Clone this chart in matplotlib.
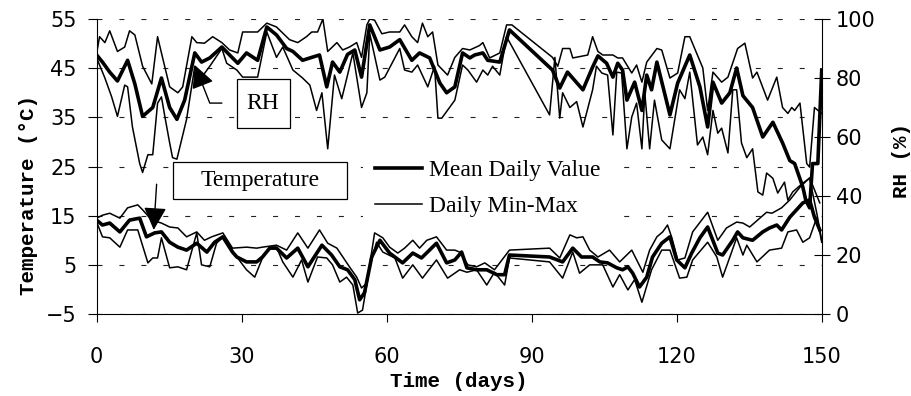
import matplotlib
matplotlib.use('Agg')
import matplotlib.pyplot as plt
from matplotlib.lines import Line2D
from matplotlib.patches import Rectangle

plt.rcParams['lines.scale_dashes'] = False

# --- RH (right axis) ---
rh_mean_day = [0.0, 1.2, 2.7, 4.3, 6.4, 7.9, 9.5, 11.6, 13.4, 15.1, 16.6, 18.2, 20.3, 21.7, 23.4, 25.9,
               27.5, 29.2, 31.0, 33.3, 35.2, 37.2, 39.3, 40.6, 42.6, 44.5, 46.1, 47.6, 48.8, 50.3, 51.9,
               53.4, 54.8, 56.5, 58.6, 60.6, 62.7, 65.2, 66.8, 68.9, 71.0, 72.4, 74.1, 75.7, 77.2, 78.2,
               79.9, 80.9, 83.4, 85.4, 94.3, 95.8, 97.4, 100.6, 102.6, 103.7, 105.5, 106.8, 107.8, 108.8,
               109.7, 111.3, 112.8, 113.8, 114.8, 115.9, 118.6, 120.2, 122.7, 124.8, 126.4, 127.5, 129.3,
               131.0, 132.4, 133.7, 135.7, 137.8, 139.9, 141.9, 143.4, 144.4, 146.1, 146.7, 147.5, 148.1,
               149.2, 150.0]
rh_mean = [87.8, 85.4, 82, 79, 86, 78, 67, 70, 80, 70, 66, 72.5, 88.5, 85.4, 86.8, 90.5,
           87.8, 85, 88.5, 86, 97.3, 94.6, 90, 89, 86, 87, 87.8, 77, 85.4, 82, 88,
           89.5, 80.3, 98, 89.5, 90.5, 93, 86, 88.5, 86.8, 78.3, 75, 77, 88.5, 86.8, 87.8,
           88.5, 86, 85.4, 96.3, 82.7, 76.6, 82, 76, 83.7, 87.5, 85, 80.3, 85, 82.7,
           72.5, 78.6, 69, 81, 76, 85.4, 67.5, 78.3, 87.8, 77, 63.4, 78.6, 71.5,
           75, 83.4, 74, 70, 60, 65, 58, 52, 51, 43, 38.6, 36, 51,
           51, 82.7]

rh_max_day = [0.0, 0.6, 1.7, 2.7, 4.3, 5.8, 6.8, 7.9, 9.5, 11.4, 12.6, 13.4, 15.1, 16.8, 17.8, 19.7,
              20.7, 22.3, 24.0, 25.9, 27.5, 29.2, 30.2, 33.3, 35.2, 37.2, 39.9, 41.6, 43.4, 44.5, 45.7,
              46.8, 47.8, 49.7, 50.9, 52.3, 53.8, 54.8, 55.9, 56.5, 57.5, 59.0, 60.6, 62.7, 63.7, 65.2,
              66.4, 67.4, 68.5, 69.5, 70.6, 72.6, 74.1, 75.7, 77.2, 79.2, 79.9, 81.3, 83.4, 84.8, 85.9,
              94.3, 95.4, 96.4, 97.9, 98.5, 101.6, 102.6, 103.7, 104.7, 106.8, 107.8, 108.8, 110.7,
              111.7, 112.8, 113.8, 115.9, 116.9, 118.6, 120.2, 121.7, 122.7, 125.4, 126.4, 127.5, 129.3,
              130.6, 132.6, 134.1, 135.7, 136.6, 138.8, 140.7, 141.9, 143.0, 143.8, 144.4, 145.5, 146.9,
              147.5, 148.5, 150.0]
rh_max = [88.5, 94, 92, 96, 89, 90.5, 96, 94.6, 84, 78, 94, 88.5, 77, 75, 77, 94,
          92, 91.8, 94, 92, 89.5, 88.5, 95.6, 95.6, 98.6, 97.3, 93, 92, 94, 95.6, 95.6,
          100, 89, 92, 89.5, 90.5, 92, 87, 98, 100, 99.6, 95, 95.6, 95.6, 98, 94,
          92, 98.6, 94, 95.6, 84.4, 81, 87, 90, 89.5, 91, 92, 86.8, 88.5, 98, 98,
          87, 84, 90, 90, 86.8, 87.8, 94, 89, 87.8, 87.8, 86.8, 86.8, 81.7,
          84.4, 78.6, 85.4, 90, 89.5, 80, 81.7, 94, 94, 83.4, 69, 82, 78.6,
          80.3, 90, 91.8, 80, 82, 72.5, 80.3, 70, 68, 70, 69, 71.5, 51,
          49.8, 70, 68]

rh_min_day = [0.0, 1.7, 3.1, 4.3, 5.8, 6.4, 7.4, 8.9, 9.5, 10.6, 11.6, 12.6, 13.4, 14.1, 15.1, 15.7,
              16.6, 18.6, 20.3, 21.3, 23.4, 25.9, 26.9, 29.0, 30.2, 33.3, 35.2, 37.2, 38.5, 40.6, 42.6,
              44.1, 45.5, 46.6, 47.8, 49.2, 50.7, 51.9, 53.0, 54.8, 55.9, 56.5, 58.6, 59.6, 62.7, 63.7,
              65.2, 66.4, 68.5, 69.9, 70.6, 71.4, 73.0, 74.1, 75.7, 76.8, 78.6, 79.9, 80.9, 81.9, 83.4,
              84.8, 93.7, 94.8, 95.8, 96.4, 97.9, 99.3, 100.6, 102.6, 103.4, 104.5, 105.7, 106.8, 107.6,
              108.6, 109.7, 110.7, 111.7, 112.8, 113.4, 114.4, 115.4, 116.9, 118.6, 120.6, 121.7, 122.7,
              124.3, 125.4, 126.4, 127.5, 128.5, 129.3, 130.6, 131.6, 132.4, 133.4, 134.5, 135.7, 136.8,
              137.8, 138.6, 139.9, 140.9, 142.3, 143.0, 144.0, 146.1, 147.5, 149.0, 150.0]
rh_min = [86.8, 80, 73.6, 67, 77.6, 77, 63.4, 51, 48, 54, 54, 71.5, 73.6, 67, 58, 53,
          52.5, 66, 84, 79.3, 84, 90, 85, 82.7, 80.3, 80.3, 95.6, 87, 90.5, 82.7, 80,
          77.6, 69, 75, 56, 81, 73, 81, 88.5, 70, 75, 95, 79.3, 80.3, 90, 82.7,
          82, 84.4, 77, 84, 66.4, 66.4, 70, 72.5, 84.4, 82.7, 78.6, 82.7, 81, 84, 81,
          94, 67.5, 87, 66.4, 75, 70, 72, 63.4, 76, 84, 81.7, 81, 60.7, 82,
          81.7, 56, 66.8, 71.5, 56, 75, 56, 72.5, 59, 56, 76, 73, 82,
          57.3, 60, 54, 69, 61.3, 63, 54.6, 76, 76, 58, 53, 56, 41.4,
          40.3, 47.8, 46, 41, 44.7, 38.6, 41.4, 44.4, 46, 34, 25]

# --- Temperature (left axis) ---
t_mean_day = [0.0, 1.2, 2.7, 4.8, 6.8, 8.9, 10.3, 12.0, 13.4, 15.1, 16.8, 18.6, 20.7, 22.8, 24.4, 26.1,
              28.1, 29.0, 31.0, 33.1, 34.3, 35.8, 37.2, 39.3, 41.6, 43.7, 46.6, 48.6, 50.3, 51.9, 53.4,
              54.4, 55.4, 56.9, 58.6, 60.6, 63.3, 65.4, 67.2, 70.3, 72.4, 74.1, 75.5, 76.6, 78.6, 80.7,
              82.8, 84.4, 85.4, 93.7, 96.4, 98.5, 100.3, 102.6, 104.1, 105.7, 107.6, 108.8, 109.9, 110.9,
              112.3, 113.8, 115.0, 116.9, 118.6, 120.0, 121.7, 123.1, 124.8, 126.4, 128.5, 129.5, 131.6,
              132.6, 133.7, 135.7, 137.8, 139.2, 140.7, 141.7, 143.4, 146.1, 147.5, 148.5, 149.6]
t_mean = [14.1, 13.1, 13.5, 11.7, 14.1, 14.5, 10.7, 11.5, 11.7, 9.6, 8.6, 8, 9.4, 7.6, 9.6, 10.7,
          7.6, 6.6, 5.6, 5.6, 6.6, 8.4, 8.4, 6.4, 8.4, 4.6, 9, 7, 4.6, 4, 2,
          -2.1, -0.7, 6.6, 10, 7.4, 5.4, 7.4, 6.4, 9.4, 5.4, 6, 7.6, 4.4, 4, 4,
          3, 3, 7, 6.6, 5.6, 8.4, 6.6, 6.6, 5.6, 5.4, 4.4, 4, 4.6, 3.3,
          0.5, 2.5, 6.6, 9.4, 10.7, 6, 4.4, 7.4, 10.5, 12.7, 7.4, 7, 10,
          11.7, 10.5, 10, 11.7, 12.5, 13.1, 12.1, 14.7, 17.6, 18.2, 14.7, 12.1]

t_max_day = [0.0, 1.2, 2.7, 4.8, 6.4, 8.5, 9.5, 11.4, 13.4, 15.1, 16.8, 18.6, 20.7, 22.3, 23.8, 26.1,
             28.1, 31.0, 33.1, 34.3, 37.2, 39.3, 41.6, 43.7, 46.1, 47.8, 49.7, 52.3, 53.8, 54.8, 55.9,
             57.5, 59.2, 60.6, 62.3, 63.7, 65.4, 66.8, 68.3, 70.3, 72.4, 74.1, 75.1, 76.8, 78.6, 80.3,
             82.3, 85.4, 93.7, 95.8, 97.9, 99.3, 100.6, 102.0, 103.7, 106.1, 108.2, 110.7, 113.0, 114.4,
             115.9, 117.1, 118.1, 119.0, 120.2, 121.7, 123.3, 126.4, 128.5, 130.3, 132.4, 133.7, 135.1,
             138.6, 139.7, 141.7, 143.4, 145.5, 147.5, 149.6]
t_max = [14.5, 15.1, 15.5, 14.5, 16.6, 17.2, 16.2, 14.1, 13.5, 12.7, 12.5, 10.7, 11.7, 10, 10.7, 11.5,
         8.4, 8.6, 8.4, 8.6, 9, 8, 11.5, 8.4, 12.1, 9.4, 8.4, 4.6, 2.5, 0.3, 1.3,
         11.5, 10.5, 8.6, 7.4, 8.4, 10, 8.4, 10, 10.7, 8, 8, 7.6, 5, 4.6, 5.4,
         4, 8, 8.4, 6.4, 11.1, 10.5, 10.7, 8, 6.6, 8, 5.6, 8, 3.5, 8,
         10.7, 11.7, 13.1, 10.5, 6, 6.4, 11.7, 15.7, 10, 12.5, 13.7, 13.5, 12.7,
         15.7, 15.5, 16.6, 18.2, 20.8, 22.7, 17.6]

t_min_day = [0.0, 1.2, 2.7, 4.8, 6.4, 8.5, 10.6, 11.6, 12.6, 13.4, 15.1, 16.8, 18.6, 20.7, 21.7, 23.4,
             24.8, 26.1, 29.0, 31.0, 32.7, 34.3, 35.8, 37.2, 38.5, 40.6, 42.4, 43.7, 45.7, 47.6, 48.8,
             50.3, 51.7, 53.0, 54.0, 55.0, 56.5, 57.9, 59.2, 61.7, 63.3, 65.4, 67.4, 70.3, 72.6, 75.1,
             76.6, 78.6, 80.7, 82.3, 84.4, 85.4, 93.7, 96.4, 98.5, 99.9, 102.0, 104.7, 106.8, 108.2,
             109.9, 111.3, 112.8, 114.8, 116.9, 118.6, 120.6, 122.1, 123.3, 126.4, 128.3, 129.5, 131.0,
             132.4, 133.7, 134.5, 136.6, 139.2, 141.7, 143.0, 144.8, 146.1, 147.5, 149.0, 150.0]
t_min = [13.7, 10.7, 10.5, 8.6, 12.1, 12.1, 5.4, 6.4, 6.4, 10.5, 4.4, 4.6, 4, 11.5, 5, 4.6,
         9.4, 10.7, 6.6, 4, 2.5, 6.4, 8.6, 8.6, 5.6, 2.5, 6, 1.5, 6.6, 6.4, 5,
         1.5, 2.5, 0.9, -4.8, -4.2, 4.6, 9.6, 7.6, 6.4, 2.3, 5, 2.3, 6, 2.3, 4,
         3.5, 4, 0.9, 3.5, 0.9, 6.4, 5.6, 2.3, 7.6, 3.3, 5, 5, 0.5, 3,
         -0.1, 2, -2.6, 4, 8, 8, 2.3, 2.5, 6, 9.6, 6.6, 2.5, 6.6,
         10.5, 7, 9, 5.6, 8, 8.4, 11.7, 12.1, 9.6, 10.5, 14.7, 9.6]

x_ticks = [0, 30, 60, 90, 120, 150]
t_ticks = [-5, 5, 15, 25, 35, 45, 55]
rh_ticks = [0, 20, 40, 60, 80, 100]

tick_font = {'family': 'DejaVu Sans', 'size': 15}
label_font = {'family': 'Liberation Mono', 'size': 15, 'weight': 'bold'}
note_font = {'family': 'Liberation Serif', 'size': 17}

fig = plt.figure(figsize=(9.12, 3.96), dpi=100)
ax = fig.add_axes([0.106, 0.207, 0.795, 0.745])
ax2 = ax.twinx()

# temperature lines
ax.plot(t_mean_day, t_mean, color='black', lw=2.6, zorder=3)
ax.plot(t_max_day, t_max, color='black', lw=1.1, zorder=3)
ax.plot(t_min_day, t_min, color='black', lw=1.1, zorder=3)

# RH lines
ax2.plot(rh_mean_day, rh_mean, color='black', lw=2.6)
ax2.plot(rh_max_day, rh_max, color='black', lw=1.1)
ax2.plot(rh_min_day, rh_min, color='black', lw=1.1)

ax.set_xlim(0, 150)
ax.set_ylim(-5, 55)
ax2.set_ylim(0, 100)
ax.set_xticks(x_ticks)
ax.set_yticks(t_ticks)
ax2.set_yticks(rh_ticks)

ax.yaxis.grid(True, linestyle=(0, (3.6, 12.2)), color='#222222', linewidth=0.8)
ax.set_axisbelow(True)

for s in ['top', 'right']:
    ax.spines[s].set_visible(False)
for s in ['top', 'left', 'bottom']:
    ax2.spines[s].set_visible(False)
for s in ['left', 'bottom']:
    ax.spines[s].set_linewidth(0.8)
ax2.spines['right'].set_linewidth(0.8)

ax.tick_params(axis='y', direction='out', length=6.5, width=0.8, pad=8)
ax.tick_params(axis='x', direction='out', length=6, width=0.8, pad=18)
ax2.tick_params(axis='y', direction='inout', length=12, width=0.8, pad=4)
for lab in ax.get_xticklabels() + ax.get_yticklabels() + ax2.get_yticklabels():
    lab.set_fontfamily(tick_font['family'])
    lab.set_fontsize(tick_font['size'])

ax.set_ylabel('Temperature (°C)', fontdict=label_font, va='center', ha='center')
ax.yaxis.set_label_coords(-0.094, 0.403)
ax2.set_ylabel('RH (%)', fontdict=label_font, va='center', ha='center')
ax2.yaxis.set_label_coords(1.11, 0.522)
ax.set_xlabel('Time (days)', fontdict=label_font, va='center', ha='center')
ax.xaxis.set_label_coords(0.5, -0.23)

# text boxes
ax2.add_patch(Rectangle((0.193, 0.631), 0.073, 0.166, transform=ax2.transAxes,
                        facecolor='white', edgecolor='black', lw=0.9, zorder=5, clip_on=False))
ax2.text(0.2297, 0.7136, 'RH', transform=ax2.transAxes, ha='center', va='center',
         fontdict=note_font, zorder=6)
ax2.add_patch(Rectangle((0.105, 0.390), 0.240, 0.125, transform=ax2.transAxes,
                        facecolor='white', edgecolor='black', lw=0.9, zorder=5, clip_on=False))
ax2.text(0.2248, 0.4525, 'Temperature', transform=ax2.transAxes, ha='center', va='center',
         fontdict=note_font, zorder=6)

# arrows
ax2.annotate('', xy=(20.3, 84.4), xytext=(25.9, 71.5),
             arrowprops=dict(arrowstyle='-|>,head_length=0.7,head_width=0.35', mutation_scale=20,
                             connectionstyle='angle,angleA=180,angleB=111.5,rad=0',
                             color='black', lw=1.0, shrinkA=0, shrinkB=0), zorder=6)
ax2.annotate('', xy=(11.8, (12.1 + 5) / 60 * 100), xytext=(12.4, (21.4 + 5) / 60 * 100),
             arrowprops=dict(arrowstyle='-|>,head_length=0.7,head_width=0.35', mutation_scale=20,
                             color='black', lw=1.0, shrinkA=0, shrinkB=0), zorder=6)

handles = [Line2D([], [], color='black', lw=2.6), Line2D([], [], color='black', lw=1.1)]
leg = ax2.legend(handles, ['Mean Daily Value', 'Daily Min-Max'], loc='upper left',
                 bbox_to_anchor=(0.367, 0.564), borderaxespad=0, frameon=True, fancybox=False,
                 edgecolor='none', facecolor='white', framealpha=1, borderpad=0.5,
                 handlelength=2.0, handletextpad=0.3, labelspacing=0.62, prop=note_font)
leg.set_zorder(7)

fig.savefig('out.png', dpi=100)
